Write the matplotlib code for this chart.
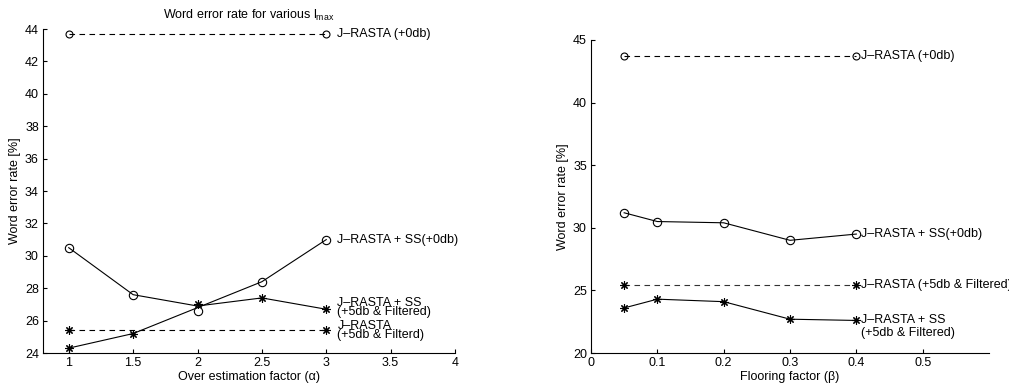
import matplotlib
matplotlib.use("Agg")
import matplotlib.pyplot as plt

plt.rcParams['font.family'] = ['Liberation Sans', 'DejaVu Sans']
plt.rcParams['mathtext.fontset'] = 'custom'
plt.rcParams['mathtext.rm'] = 'Liberation Sans'

# ---------------- Left panel data ----------------
alpha = [1, 1.5, 2, 2.5, 3]
alpha_ends = [1, 3]
left_jrasta0 = [43.7, 43.7]
left_jrasta5 = [25.4, 25.4]
# markers as drawn
left_ss0_markers = [30.5, 27.6, 26.6, 28.4, 31.0]
left_ss5_markers = [24.3, 25.2, 27.0, 27.4, 26.7]
# connecting lines as drawn in the source figure
left_line_a = [30.5, 27.6, 26.9, 27.4, 26.7]
left_line_b = [24.3, 25.2, 26.8, 28.4, 31.0]
left_xticks = [1, 1.5, 2, 2.5, 3, 3.5, 4]
left_yticks = [24, 26, 28, 30, 32, 34, 36, 38, 40, 42, 44]

# ---------------- Right panel data ----------------
beta = [0.05, 0.1, 0.2, 0.3, 0.4]
beta_ends = [0.05, 0.4]
right_jrasta0 = [43.7, 43.7]
right_jrasta5 = [25.4, 25.4]
right_ss0 = [31.2, 30.5, 30.4, 29.0, 29.5]
right_ss5 = [23.6, 24.3, 24.1, 22.7, 22.6]
right_xticks = [0, 0.1, 0.2, 0.3, 0.4, 0.5]
right_yticks = [20, 25, 30, 35, 40, 45]

W, H = 1009, 387
fig = plt.figure(figsize=(W / 100, H / 100), dpi=100)

ax1 = fig.add_axes([43 / W, 1 - 353 / H, (455 - 43) / W, (353 - 29) / H])
ax2 = fig.add_axes([591 / W, 1 - 353 / H, (989 - 591) / W, (353 - 40) / H])

FS = 9
lw = 0.8
ast = (8, 2, 0)
dash = (0, (5, 4))

# left
ax1.plot(alpha_ends, left_jrasta0, color='k', lw=lw, ls=dash, marker='o', mfc='none', mec='k', ms=5, mew=0.8)
ax1.plot(alpha_ends, left_jrasta5, color='k', lw=lw, ls=dash, marker=ast, mec='k', ms=6, mew=0.8)
ax1.plot(alpha, left_line_a, color='k', lw=lw)
ax1.plot(alpha, left_line_b, color='k', lw=lw)
ax1.plot(alpha, left_ss0_markers, ls='none', marker='o', mfc='none', mec='k', ms=6, mew=0.8)
ax1.plot(alpha, left_ss5_markers, ls='none', marker=ast, mec='k', ms=6, mew=0.8)
ax1.set_xlim(0.8, 4)
ax1.set_ylim(24, 44)
ax1.set_xticks(left_xticks)
ax1.set_xticklabels([f'{v:g}' for v in left_xticks])
ax1.set_yticks(left_yticks)
ax1.set_xlabel('Over estimation factor (α)', fontsize=FS, labelpad=1)
ax1.set_ylabel('Word error rate [%]', fontsize=FS, labelpad=3)
ax1.set_title('Word error rate for various l$_{\\mathrm{max}}$', fontsize=FS, pad=7)

lab_kw = dict(textcoords='offset points', fontsize=FS, annotation_clip=False, ha='left')
ax1.annotate('J–RASTA (+0db)', (3, left_jrasta0[-1]), xytext=(8, 0), va='center', **lab_kw)
ax1.annotate('J–RASTA + SS(+0db)', (3, left_ss0_markers[-1]), xytext=(8, 0), va='center', **lab_kw)
ax1.annotate('J–RASTA + SS\n(+5db & Filtered)', (3, left_ss5_markers[-1]), xytext=(8, 1.5), va='center',
             linespacing=0.7, **lab_kw)
ax1.annotate('J–RASTA\n(+5db & Filterd)', (3, left_jrasta5[-1]), xytext=(8, 0), va='center',
             linespacing=0.7, **lab_kw)

# right
ax2.plot(beta_ends, right_jrasta0, color='k', lw=lw, ls=dash, marker='o', mfc='none', mec='k', ms=5, mew=0.8)
ax2.plot(beta_ends, right_jrasta5, color='#333333', lw=lw, ls=dash, marker=ast, mec='k', ms=6, mew=0.8)
ax2.plot(beta, right_ss0, color='k', lw=lw, marker='o', mfc='none', mec='k', ms=6, mew=0.8)
ax2.plot(beta, right_ss5, color='k', lw=lw, marker=ast, mec='k', ms=6, mew=0.8)
ax2.set_xlim(0, 0.6)
ax2.set_ylim(20, 45)
ax2.set_xticks(right_xticks)
ax2.set_xticklabels([f'{v:g}' for v in right_xticks])
ax2.set_yticks(right_yticks)
ax2.set_xlabel('Flooring factor (β)', fontsize=FS, labelpad=1)
ax2.set_ylabel('Word error rate [%]', fontsize=FS, labelpad=3)

ax2.annotate('J–RASTA (+0db)', (0.4, right_jrasta0[-1]), xytext=(3.5, 0), va='center', **lab_kw)
ax2.annotate('J–RASTA + SS(+0db)', (0.4, right_ss0[-1]), xytext=(3.5, 0), va='center', **lab_kw)
ax2.annotate('J–RASTA (+5db & Filtered)', (0.4, right_jrasta5[-1]), xytext=(3.5, 0), va='center', **lab_kw)
ax2.annotate('J–RASTA + SS\n(+5db & Filtered)', (0.4, right_ss5[-1]), xytext=(3.5, -4.5), va='center',
             linespacing=1.05, **lab_kw)

for ax in (ax1, ax2):
    ax.spines['top'].set_visible(False)
    ax.spines['right'].set_visible(False)
    for s in ('left', 'bottom'):
        ax.spines[s].set_linewidth(0.8)
    ax.tick_params(direction='in', length=3, width=0.8, labelsize=FS, pad=3)

fig.savefig('out.png', dpi=100)
